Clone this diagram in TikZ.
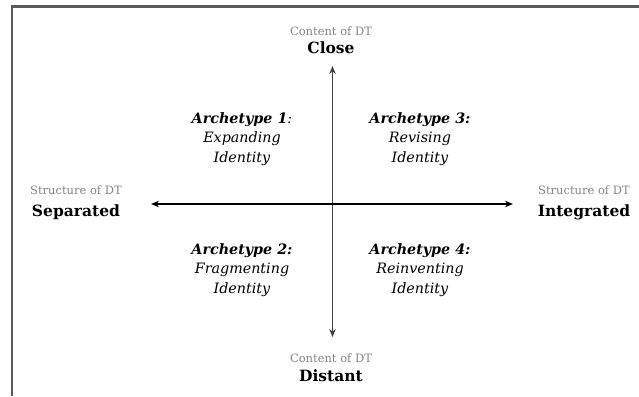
\documentclass[tikz,border=0pt]{standalone}
\usepackage{fontspec}
\setmainfont{DejaVu Serif}
\usetikzlibrary{arrows.meta}
\definecolor{frame}{HTML}{5A5A5A}
\definecolor{lab}{HTML}{858585}
\tikzset{
  small/.style={text=lab, font=\fontsize{11.5}{13}\selectfont, inner sep=0pt, anchor=center},
  big/.style={font=\fontsize{15.5}{18}\selectfont\bfseries, inner sep=0pt, anchor=center},
  arch/.style={align=center, font=\fontsize{14.3}{19.5}\selectfont\itshape, inner sep=0pt, anchor=center},
  axis/.style={line width=1.3pt, -{Stealth[length=8pt,width=6.5pt]}},
}
\begin{document}
\begin{tikzpicture}[x=1pt,y=-1pt]
\useasboundingbox (0,0) rectangle (639,396);
\draw[frame, line width=2.2pt] (12,396) -- (12,6.5) -- (639,6.5);
% axis labels
\node[small] (ctop) at (331,31) {Content of DT};
\node[big] (close) at (331,48) {Close};
\node[small] (cbot) at (331,358) {Content of DT};
\node[big] (distant) at (331,376) {Distant};
\node[small] (sleft) at (76,190) {Structure of DT};
\node[big] (sep) at (76,212) {Separated};
\node[small] (sright) at (584,190) {Structure of DT};
\node[big] (integ) at (584,212) {Integrated};
% axes
\coordinate (c) at (332.5,204);
\coordinate (top) at (332.5,66);
\coordinate (bot) at (332.5,337);
\coordinate (left) at (151,204);
\coordinate (right) at (513,204);
\draw[axis, draw=black!75] (c) -- (top);
\draw[axis, draw=black!75] (c) -- (bot);
\draw[axis] (c) -- (left);
\draw[axis] (c) -- (right);
% archetypes
\node[arch] (a1) at (242,139) {\textbf{Archetype 1}:\\Expanding\\Identity};
\node[arch] (a3) at (420,139) {\textbf{Archetype 3:}\\Revising\\Identity};
\node[arch] (a2) at (242,270) {\textbf{Archetype 2:}\\Fragmenting\\Identity};
\node[arch] (a4) at (420,270) {\textbf{Archetype 4:}\\Reinventing\\Identity};
\end{tikzpicture}
\end{document}
